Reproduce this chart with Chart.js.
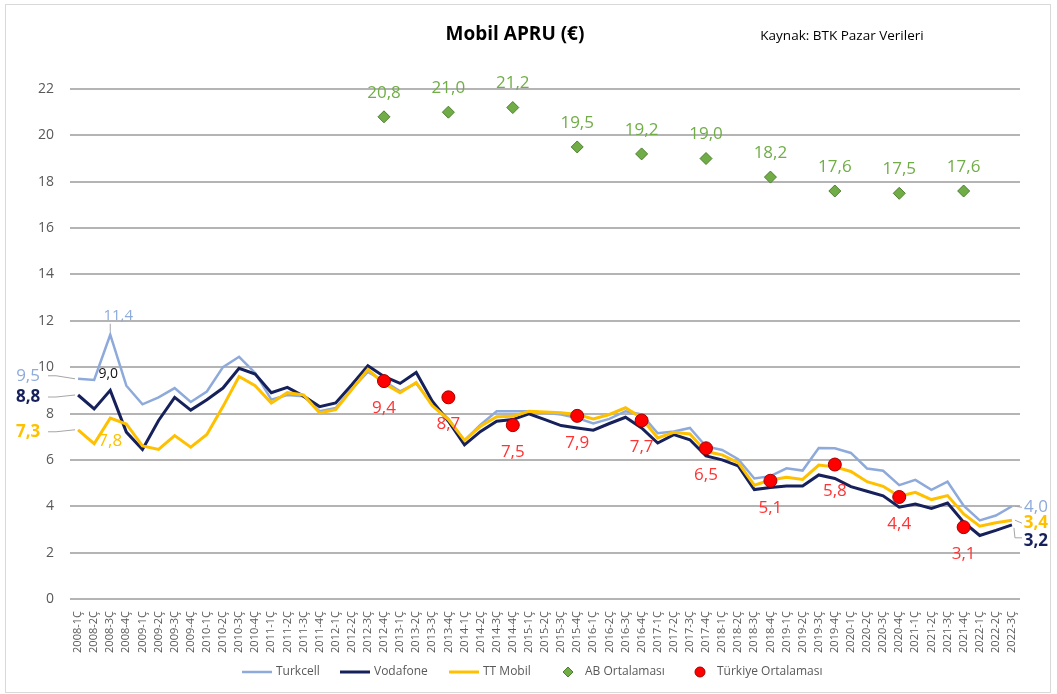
<!DOCTYPE html>
<html>
<head>
<meta charset="utf-8">
<script src="https://cdn.jsdelivr.net/npm/chart.js@4/dist/chart.umd.min.js"></script>
<style>
  html, body { margin: 0; padding: 0; background: #fff; }
  #wrap { width: 1057px; height: 694px; position: relative; }
</style>
</head>
<body>
<div id="wrap"><canvas id="chart" width="1057" height="694"></canvas></div>
<script>
const quarters = [
  '2008-1Ç','2008-2Ç','2008-3Ç','2008-4Ç','2009-1Ç','2009-2Ç','2009-3Ç','2009-4Ç',
  '2010-1Ç','2010-2Ç','2010-3Ç','2010-4Ç','2011-1Ç','2011-2Ç','2011-3Ç','2011-4Ç',
  '2012-1Ç','2012-2Ç','2012-3Ç','2012-4Ç','2013-1Ç','2013-2Ç','2013-3Ç','2013-4Ç',
  '2014-1Ç','2014-2Ç','2014-3Ç','2014-4Ç','2015-1Ç','2015-2Ç','2015-3Ç','2015-4Ç',
  '2016-1Ç','2016-2Ç','2016-3Ç','2016-4Ç','2017-1Ç','2017-2Ç','2017-3Ç','2017-4Ç',
  '2018-1Ç','2018-2Ç','2018-3Ç','2018-4Ç','2019-1Ç','2019-2Ç','2019-3Ç','2019-4Ç',
  '2020-1Ç','2020-2Ç','2020-3Ç','2020-4Ç','2021-1Ç','2021-2Ç','2021-3Ç','2021-4Ç',
  '2022-1Ç','2022-2Ç','2022-3Ç'
];

const turkcell = [
  9.5, 9.45, 11.4, 9.2, 8.4, 8.7, 9.1, 8.5,
  8.95, 10.0, 10.45, 9.75, 8.6, 8.8, 8.75, 8.1,
  8.24, 9.06, 9.8, 9.4, 8.96, 9.3, 8.4, 7.77,
  6.84, 7.52, 8.1, 8.1, 8.1, 8.03, 7.96, 7.81,
  7.57, 7.77, 8.1, 7.96, 7.15, 7.23, 7.38, 6.58,
  6.43, 6.03, 5.2, 5.3, 5.64, 5.54, 6.51, 6.5,
  6.3, 5.63, 5.53, 4.91, 5.14, 4.71, 5.06, 4.03,
  3.39, 3.6, 4.0
];

const vodafone = [
  8.8, 8.2, 9.0, 7.2, 6.45, 7.7, 8.7, 8.15,
  8.6, 9.1, 9.95, 9.7, 8.9, 9.13, 8.75, 8.3,
  8.46, 9.24, 10.06, 9.6, 9.3, 9.77, 8.53, 7.67,
  6.65, 7.23, 7.67, 7.74, 7.99, 7.74, 7.48, 7.38,
  7.28, 7.57, 7.84, 7.38, 6.73, 7.09, 6.87, 6.17,
  6.0, 5.74, 4.72, 4.81, 4.87, 4.87, 5.35, 5.2,
  4.85, 4.65, 4.45, 3.96, 4.1, 3.91, 4.14, 3.31,
  2.74, 2.96, 3.2
];

const ttMobil = [
  7.3, 6.7, 7.8, 7.55, 6.6, 6.45, 7.05, 6.55,
  7.1, 8.3, 9.6, 9.2, 8.45, 8.9, 8.8, 8.03,
  8.17, 9.03, 9.9, 9.3, 8.9, 9.34, 8.34, 7.74,
  6.84, 7.45, 7.86, 7.88, 8.1, 8.07, 8.03, 7.96,
  7.77, 7.96, 8.25, 7.81, 6.95, 7.19, 7.12, 6.36,
  6.22, 5.88, 4.91, 5.13, 5.25, 5.16, 5.78, 5.7,
  5.5, 5.06, 4.86, 4.43, 4.6, 4.29, 4.46, 3.67,
  3.14, 3.29, 3.4
];

const avgQuarters = ['2012-4Ç','2013-4Ç','2014-4Ç','2015-4Ç','2016-4Ç','2017-4Ç','2018-4Ç','2019-4Ç','2020-4Ç','2021-4Ç'];
const abAvg = [20.8, 21.0, 21.2, 19.5, 19.2, 19.0, 18.2, 17.6, 17.5, 17.6];
const trAvg = [9.4, 8.7, 7.5, 7.9, 7.7, 6.5, 5.1, 5.8, 4.4, 3.1];

const yTicks = [0, 2, 4, 6, 8, 10, 12, 14, 16, 18, 20, 22];

const FONT = "'Open Sans', 'Noto Sans', sans-serif";
const fmt = v => v.toFixed(1).replace('.', ',');

// labels at the first, third and last point of each operator line
const endLabels = [
  { ds: 0, i: 0, dx: -50, dy: -3, size: 17, bold: false, color: '#8eaadb', lead: 'left' },
  { ds: 1, i: 0, dx: -50, dy: 2, size: 17, bold: true, color: '#16215b', lead: 'left' },
  { ds: 2, i: 0, dx: -50, dy: 2, size: 17, bold: true, color: '#ffc000', lead: 'left' },
  { ds: 0, i: 2, dx: 8, dy: -19, size: 15, bold: false, color: '#8eaadb', lead: 'up' },
  { ds: 1, i: 2, dx: -2, dy: -16, size: 14, bold: false, color: '#111' },
  { ds: 2, i: 2, dx: 0, dy: 23, size: 17, bold: false, color: '#ffc000' },
  { ds: 0, i: 58, dx: 24, dy: 1, size: 17, bold: false, color: '#8eaadb', lead: 'right' },
  { ds: 2, i: 58, dx: 24, dy: 3, size: 17, bold: true, color: '#ffc000', lead: 'right' },
  { ds: 1, i: 58, dx: 24, dy: 16, size: 17, bold: true, color: '#16215b', lead: 'bend' }
];

// legend: marker start x for each dataset, drawn at y 672
const legendX = [242, 340, 449, 563, 695];

const labelPlugin = {
  id: 'labels',
  beforeDraw(chart) {
    const ctx = chart.ctx;
    ctx.save();
    ctx.fillStyle = '#fff';
    ctx.fillRect(0, 0, chart.width, chart.height);
    ctx.strokeStyle = '#d9d9d9';
    ctx.lineWidth = 1;
    ctx.strokeRect(5.5, 4.5, 1045, 688);
    ctx.restore();
  },
  afterDatasetsDraw(chart) {
    const ctx = chart.ctx;
    ctx.save();
    ctx.textAlign = 'center';
    ctx.textBaseline = 'middle';

    // titles
    ctx.fillStyle = '#000';
    ctx.font = 'bold 19px ' + FONT;
    ctx.fillText('Mobil APRU (€)', 515, 35);
    ctx.font = '13.5px ' + FONT;
    ctx.fillText('Kaynak: BTK Pazar Verileri', 842, 36);

    // average markers
    const abMeta = chart.getDatasetMeta(3);
    ctx.font = '17px ' + FONT;
    ctx.fillStyle = '#70ad47';
    abMeta.data.forEach((p, k) => ctx.fillText(fmt(abAvg[k]), p.x, p.y - 24));
    const trMeta = chart.getDatasetMeta(4);
    ctx.fillStyle = '#ff3333';
    trMeta.data.forEach((p, k) => ctx.fillText(fmt(trAvg[k]), p.x, p.y + 27));

    // line end labels
    endLabels.forEach(l => {
      const p = chart.getDatasetMeta(l.ds).data[l.i];
      const v = chart.data.datasets[l.ds].data[l.i];
      const tx = p.x + l.dx, ty = p.y + l.dy;
      ctx.font = (l.bold ? 'bold ' : '') + l.size + 'px ' + FONT;
      ctx.fillStyle = l.color;
      ctx.fillText(fmt(v), tx, ty);
      if (l.lead) {
        ctx.strokeStyle = '#a6a6a6';
        ctx.lineWidth = 1;
        ctx.beginPath();
        if (l.lead === 'left') {
          ctx.moveTo(tx + 20, ty);
          ctx.lineTo(tx + 28, ty);
          ctx.lineTo(p.x - 3, p.y);
        } else if (l.lead === 'right') {
          ctx.moveTo(p.x + 3, p.y);
          ctx.lineTo(tx - 14, ty);
        } else if (l.lead === 'bend') {
          ctx.moveTo(p.x + 2, p.y + 3);
          ctx.lineTo(p.x + 3, ty - 3);
          ctx.lineTo(tx - 14, ty - 3);
        } else if (l.lead === 'up') {
          ctx.moveTo(p.x, ty + 8);
          ctx.lineTo(p.x, p.y - 3);
        }
        ctx.stroke();
      }
    });

    // legend
    const ly = 672;
    ctx.textAlign = 'left';
    ctx.font = '12px ' + FONT;
    chart.data.datasets.forEach((ds, k) => {
      const x = legendX[k];
      let tx;
      if (ds.showLine === false) {
        ctx.fillStyle = ds.backgroundColor;
        ctx.strokeStyle = ds.borderColor;
        ctx.lineWidth = 1;
        ctx.beginPath();
        if (ds.pointStyle === 'rectRot') {
          ctx.moveTo(x + 5, ly - 5);
          ctx.lineTo(x + 10, ly);
          ctx.lineTo(x + 5, ly + 5);
          ctx.lineTo(x, ly);
          ctx.closePath();
        } else {
          ctx.arc(x + 5, ly, 5, 0, Math.PI * 2);
        }
        ctx.fill();
        ctx.stroke();
        tx = x + 22;
      } else {
        ctx.strokeStyle = ds.borderColor;
        ctx.lineWidth = ds.borderWidth;
        ctx.beginPath();
        ctx.moveTo(x, ly);
        ctx.lineTo(x + 30, ly);
        ctx.stroke();
        tx = x + 34;
      }
      ctx.fillStyle = '#595959';
      ctx.fillText(ds.label, tx, ly);
    });
    ctx.restore();
  }
};

new Chart('chart', {
  type: 'line',
  data: {
    labels: quarters,
    datasets: [{
      label: 'Turkcell',
      data: turkcell,
      borderColor: '#8eaadb',
      backgroundColor: '#8eaadb',
      borderWidth: 2.5,
      pointRadius: 0,
      tension: 0,
      order: 4
    }, {
      label: 'Vodafone',
      data: vodafone,
      borderColor: '#16215b',
      backgroundColor: '#16215b',
      borderWidth: 3,
      pointRadius: 0,
      tension: 0,
      order: 3
    }, {
      label: 'TT Mobil',
      data: ttMobil,
      borderColor: '#ffc000',
      backgroundColor: '#ffc000',
      borderWidth: 3,
      pointRadius: 0,
      tension: 0,
      order: 2
    }, {
      label: 'AB Ortalaması',
      data: avgQuarters.map((q, k) => ({ x: q, y: abAvg[k] })),
      showLine: false,
      pointStyle: 'rectRot',
      pointRadius: 6,
      backgroundColor: '#70ad47',
      borderColor: '#4e7f2f',
      borderWidth: 1,
      order: 1
    }, {
      label: 'Türkiye Ortalaması',
      data: avgQuarters.map((q, k) => ({ x: q, y: trAvg[k] })),
      showLine: false,
      pointStyle: 'circle',
      pointRadius: 6.5,
      backgroundColor: '#ff0000',
      borderColor: '#a50000',
      borderWidth: 1,
      order: 0
    }]
  },
  options: {
    responsive: false,
    animation: false,
    layout: { padding: { top: 89, right: 37, bottom: 37, left: 0 } },
    plugins: {
      title: { display: false },
      tooltip: { enabled: false },
      legend: { display: false }
    },
    scales: {
      x: {
        offset: true,
        grid: { display: false },
        border: { display: false },
        ticks: {
          autoSkip: false,
          minRotation: 90,
          maxRotation: 90,
          padding: 4,
          color: '#595959',
          font: { size: 11, family: FONT }
        },
        afterFit: s => { s.height = 58; }
      },
      y: {
        min: 0,
        max: 22,
        afterBuildTicks: s => { s.ticks = yTicks.map(v => ({ value: v })); },
        grid: { color: '#b4b4b4', lineWidth: 2, drawTicks: false },
        border: { display: false },
        ticks: {
          padding: 16,
          color: '#595959',
          font: { size: 14, family: FONT }
        },
        afterFit: s => { s.width = 70; }
      }
    }
  },
  plugins: [labelPlugin]
});
</script>
</body>
</html>
